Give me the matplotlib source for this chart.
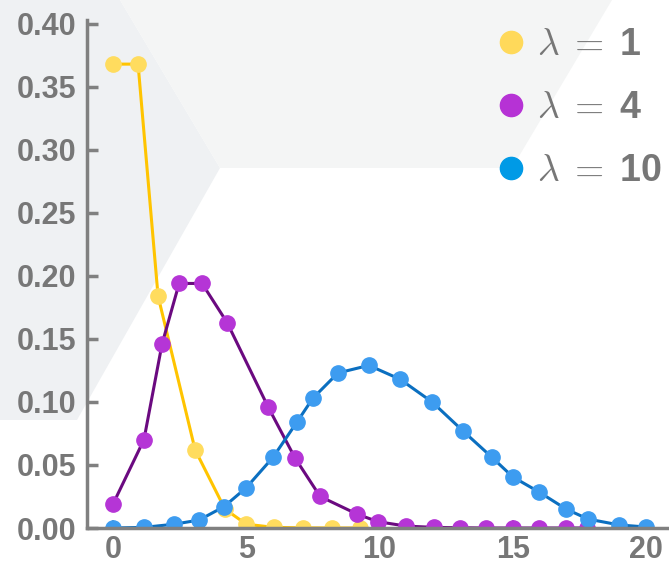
import matplotlib
matplotlib.use('Agg')
import matplotlib.pyplot as plt
from matplotlib.patches import Polygon
from matplotlib.lines import Line2D

# values
x_l1 = [0, 0.94, 1.69, 3.08, 4.2, 5.0, 6.04, 7.13, 8.2, 9.27]
y_l1 = [0.368, 0.368, 0.184, 0.062, 0.015, 0.003, 0.0005, 0.0001, 0.0, 0.0]

x_l4 = [0, 1.16, 1.84, 2.48, 3.34, 4.28, 5.82, 6.83, 7.77, 9.16, 9.94,
        11.0, 12.05, 13.0, 14.0, 15.0, 16.0, 17.0, 17.8]
y_l4 = [0.019, 0.070, 0.146, 0.194, 0.194, 0.163, 0.096, 0.0555, 0.025,
        0.011, 0.005, 0.0015, 0.0005, 0.0002, 0.0, 0.0, 0.0, 0.0, 0.0]

x_l10 = [0, 1.16, 2.29, 3.23, 4.17, 5.0, 6.0, 6.9, 7.5, 8.44, 9.6, 10.77,
         11.97, 13.13, 14.22, 15.0, 15.98, 17.0, 17.82, 19.0, 20.0]
y_l10 = [0.0, 0.0005, 0.003, 0.0063, 0.017, 0.032, 0.056, 0.084, 0.103,
         0.123, 0.129, 0.118, 0.100, 0.077, 0.056, 0.0405, 0.0286, 0.015,
         0.0071, 0.0024, 0.0008]

labels = ['1', '4', '10']
marker_colors = ['#ffdc5e', '#b535d6', '#3d9cf0']
line_colors = ['#ffc400', '#6b0a80', '#0b6fc0']
legend_colors = ['#ffd95a', '#b632d5', '#009ae6']

W, H = 669, 566
gray = '#777777'

plt.rcParams['font.family'] = ['Liberation Sans', 'DejaVu Sans']
plt.rcParams['mathtext.fontset'] = 'cm'

fig = plt.figure(figsize=(W / 100, H / 100), dpi=100)
fig.patch.set_facecolor('white')


def px(pts):
    return [(x / W, 1 - y / H) for x, y in pts]


fig.add_artist(Polygon(px([(0, 0), (120, 0), (220, 168), (77, 420), (0, 420)]),
                       closed=True, transform=fig.transFigure,
                       facecolor='#eff1f3', edgecolor='none', zorder=-2))
fig.add_artist(Polygon(px([(120, 0), (612, 0), (512, 168), (220, 168)]),
                       closed=True, transform=fig.transFigure,
                       facecolor='#f4f5f5', edgecolor='none', zorder=-2))

ax = fig.add_axes([87 / W, 1 - 528 / H, 1 - 87 / W, (528 - 20) / H])
ax.patch.set_alpha(0)

series = [(x_l1, y_l1), (x_l4, y_l4), (x_l10, y_l10)]
for (xs, ys), mc, lc in zip(series, marker_colors, line_colors):
    ax.plot(xs, ys, color=lc, lw=2.2, marker='o', ms=11,
            markerfacecolor=mc, markeredgecolor=mc)

ax.set_xlim(-0.976, 20.86)
ax.set_ylim(0, 0.403)
ax.set_xticks([0, 5, 10, 15, 20])
ax.set_yticks([0, 0.05, 0.1, 0.15, 0.2, 0.25, 0.3, 0.35, 0.4])
ax.set_yticklabels(['%.2f' % v for v in ax.get_yticks()])

for s in ['top', 'right']:
    ax.spines[s].set_visible(False)
for s in ['left', 'bottom']:
    ax.spines[s].set_color('#808080')
    ax.spines[s].set_linewidth(2.5)

ax.tick_params(axis='y', direction='in', length=8, width=2.5, color='#808080',
               pad=8, labelsize=22, labelcolor=gray)
ax.tick_params(axis='x', direction='in', length=6, width=1.2, color='#808080',
               pad=5, labelsize=22, labelcolor=gray)
for t in ax.get_xticklabels() + ax.get_yticklabels():
    t.set_fontweight('bold')

handles = [Line2D([], [], ls='none', marker='o', ms=16,
                  markerfacecolor=c, markeredgecolor=c) for c in legend_colors]
leg = ax.legend(handles, [r'$\lambda\;=\;$' + l for l in labels],
                loc='upper right', bbox_to_anchor=(1.045, 1.053), frameon=False,
                fontsize=27, labelspacing=0.72, handletextpad=0.1,
                handlelength=1.2)
for t in leg.get_texts():
    t.set_color(gray)
    t.set_fontweight('bold')

fig.savefig('out.png', dpi=100)
